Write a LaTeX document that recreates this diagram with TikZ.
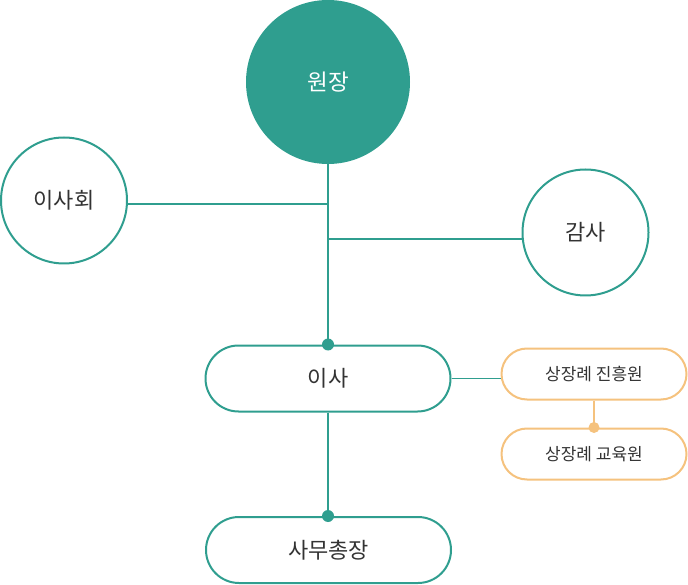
\documentclass[tikz,border=0pt]{standalone}
\usepackage{fontspec}
\setmainfont{Noto Sans CJK KR}
\usetikzlibrary{shapes.misc}
\definecolor{teal1}{RGB}{47,158,143}
\definecolor{orng}{RGB}{245,194,126}
\definecolor{txt}{RGB}{51,51,51}
\tikzset{
  bigcirc/.style={circle, draw=teal1, line width=2pt, fill=white, inner sep=0pt, minimum size=126pt, text=txt, font=\fontsize{22pt}{26pt}\selectfont},
  headcirc/.style={circle, fill=teal1, inner sep=0pt, minimum size=164pt, text=white, font=\fontsize{22.5pt}{26pt}\selectfont},
  mainbox/.style={rounded rectangle, draw=teal1, line width=2pt, fill=white, inner sep=0pt, minimum width=245pt, minimum height=66pt, text=txt, font=\fontsize{22pt}{26pt}\selectfont},
  subbox/.style={rounded rectangle, draw=orng, line width=2pt, fill=white, inner sep=0pt, minimum width=185pt, minimum height=51pt, text=txt, font=\fontsize{17pt}{20pt}\selectfont},
  tline/.style={draw=teal1, line width=1.2pt},
  oline/.style={draw=orng, line width=1.2pt},
  tdot/.style={fill=teal1},
  odot/.style={fill=orng},
}
\begin{document}
\begin{tikzpicture}[x=1pt,y=-1pt]
\useasboundingbox (0,0) rectangle (688,585);
\node[headcirc] (wonjang) at (328,82) {원장};
\node[bigcirc] (isahoe) at (64,200.5) {이사회};
\node[bigcirc] (gamsa) at (585.5,232.5) {감사};
\node[mainbox] (isa) at (328,378.5) {이사};
\node[subbox] (jin) at (594,374) {상장례 진흥원};
\node[subbox] (edu) at (594,454) {상장례 교육원};
\node[mainbox] (samu) at (328.5,550) {사무총장};
\coordinate (j1) at (328,204);
\coordinate (j2) at (328,239);
\draw[tline] (wonjang.south) -- (isa.north);
\draw[tline] (j1) -- (j1 -| isahoe.east);
\draw[tline] (j2) -- (j2 -| gamsa.west);
\draw[tline] (isa.south) -- (samu.north -| isa.south);
\draw[tline] (isa.east) -- (isa.east -| jin.west);
\draw[oline] (jin.south) -- (edu.north);
\fill[tdot] (isa.north) circle (6pt);
\fill[tdot] (samu.north -| isa.south) circle (6pt);
\fill[odot] (edu.north) circle (5.5pt);
\end{tikzpicture}
\end{document}
